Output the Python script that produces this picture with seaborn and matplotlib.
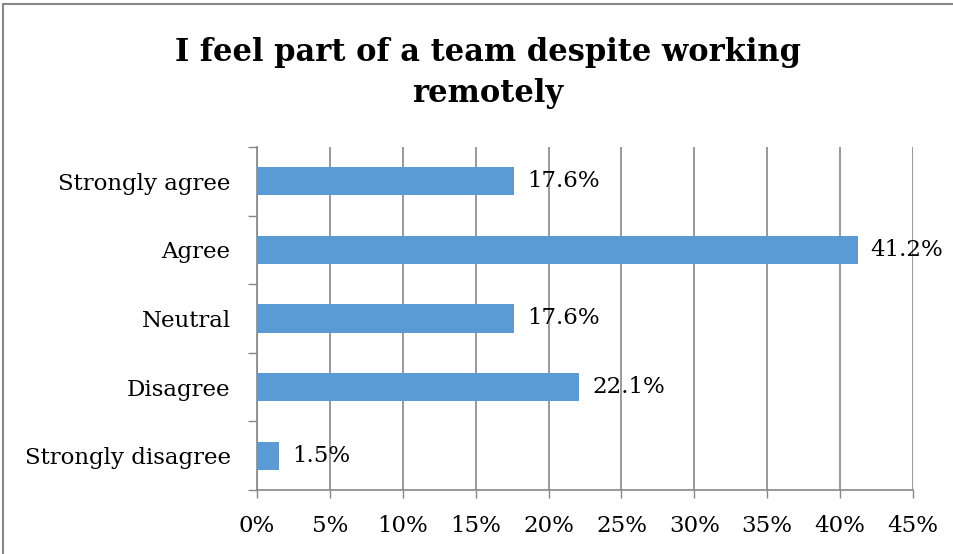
import matplotlib
matplotlib.use("Agg")
import matplotlib.pyplot as plt
from matplotlib.lines import Line2D
from matplotlib.ticker import FixedLocator, PercentFormatter
import seaborn as sns
import pandas as pd

# Survey responses
categories = ["Strongly agree", "Agree", "Neutral", "Disagree", "Strongly disagree"]
shares = [17.6, 41.2, 17.6, 22.1, 1.5]
x_ticks = [0, 5, 10, 15, 20, 25, 30, 35, 40, 45]
title = "I feel part of a team despite working\nremotely"

df = pd.DataFrame({"response": categories, "share": shares})

sns.set_style("white")
plt.rcParams["font.family"] = ["DejaVu Serif"]
plt.rcParams["text.color"] = "black"
plt.rcParams["xtick.color"] = "black"
plt.rcParams["ytick.color"] = "black"

grey = "#878787"
bar_color = "#5B9BD5"

fig = plt.figure(figsize=(9.54, 5.54), dpi=100)
ax = fig.add_axes([257 / 954, 1 - 490 / 554, (913 - 257) / 954, (490 - 147) / 554])

sns.barplot(data=df, x="share", y="response", orient="h", color=bar_color,
            width=0.41, saturation=1, linewidth=0, ax=ax, zorder=3)

ax.set_xlim(0, 45)
ax.set_ylim(4.5, -0.5)
ax.set_xlabel("")
ax.set_ylabel("")

# vertical gridlines
ax.xaxis.set_major_locator(FixedLocator(x_ticks))
ax.xaxis.set_major_formatter(PercentFormatter(decimals=0))
ax.grid(axis="x", color=grey, linewidth=1.2, zorder=0)
ax.grid(axis="y", visible=False)

# category boundary ticks on the y axis
ax.yaxis.set_minor_locator(FixedLocator([-0.5, 0.5, 1.5, 2.5, 3.5, 4.5]))
ax.tick_params(axis="y", which="major", length=0, pad=19, labelsize=16.5,
               labelcolor="black")
ax.tick_params(axis="y", which="minor", length=6.5, width=1.0, color=grey, left=True)
ax.tick_params(axis="x", which="major", length=6, width=1.0, color=grey,
               bottom=True, pad=12, labelsize=16.5, labelcolor="black")

for side in ["top", "right"]:
    ax.spines[side].set_visible(False)
for side in ["left", "bottom"]:
    ax.spines[side].set_color(grey)
    ax.spines[side].set_linewidth(1.2)

# value labels
for i, v in enumerate(shares):
    ax.text(v + 0.9, i, f"{v:.1f}%", va="center", ha="left", fontsize=16.5,
            color="black", zorder=4)

fig.text(488 / 954, 1 - 73 / 554, title, ha="center", va="center",
         fontsize=22, fontweight="bold", linespacing=1.45, color="black")

# chart frame
fig.add_artist(Line2D([3.5 / 954, 3.5 / 954], [1 - 4 / 554, 0], color=grey,
                      linewidth=1.5, transform=fig.transFigure))
fig.add_artist(Line2D([3.5 / 954, 1], [1 - 4 / 554, 1 - 4 / 554], color=grey,
                      linewidth=1.5, transform=fig.transFigure))

fig.savefig("out.png", dpi=100)
